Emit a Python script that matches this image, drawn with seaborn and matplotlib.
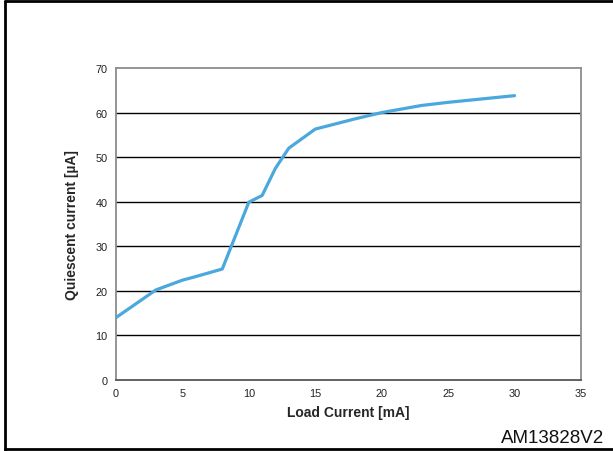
import matplotlib
matplotlib.use("Agg")
import matplotlib.pyplot as plt
import seaborn as sns
import pandas as pd
from matplotlib.lines import Line2D

# Quiescent current vs load current
load_current_ma = [0, 3, 5, 6, 8, 10, 11, 12, 13, 15, 18, 20, 23, 25, 30]
quiescent_ua = [14.0, 20.2, 22.4, 23.2, 24.9, 39.9, 41.4, 47.5, 52.0, 56.3, 58.6, 60.0, 61.6, 62.3, 63.8]
x_ticks = [0, 5, 10, 15, 20, 25, 30, 35]
y_ticks = [0, 10, 20, 30, 40, 50, 60, 70]

df = pd.DataFrame({"load": load_current_ma, "iq": quiescent_ua})

sns.set_theme(style="white")
plt.rcParams["font.family"] = ["Liberation Sans", "DejaVu Sans"]

fig = plt.figure(figsize=(6.13, 4.52), dpi=100)
ax = fig.add_axes([0.1892, 0.1571, 0.7586, 0.6902])

sns.lineplot(data=df, x="load", y="iq", ax=ax, color="#4AA8DE", linewidth=2.3, zorder=3)

ax.set_xlim(0, 35)
ax.set_ylim(0, 70)
ax.set_xticks(x_ticks)
ax.set_yticks(y_ticks)
ax.tick_params(axis="both", length=0, labelsize=7.8, colors="#222222", pad=6)
for yv in y_ticks[1:-1]:
    ax.axhline(yv, color="black", linewidth=1.0, zorder=1)
for s in ax.spines.values():
    s.set_color("#8c8c8c")
    s.set_linewidth(1.3)
ax.spines["bottom"].set_color("#555555")

ax.set_xlabel("Load Current [mA]", fontsize=10, fontweight="bold", labelpad=5)
ax.set_ylabel("Quiescent current [µA]", fontsize=10, fontweight="bold", labelpad=12)

fig.text(0.986, 0.02, "AM13828V2", ha="right", va="baseline", fontsize=13.5, color="#111111")

# outer frame
frame_kw = dict(color="black", linewidth=2, transform=fig.transFigure)
fig.add_artist(Line2D([0.008, 0.008], [0.003, 0.995], **frame_kw))
fig.add_artist(Line2D([0.008, 1.0], [0.995, 0.995], **frame_kw))
fig.add_artist(Line2D([0.008, 1.0], [0.005, 0.005], **frame_kw))

fig.savefig("out.png", dpi=100)
